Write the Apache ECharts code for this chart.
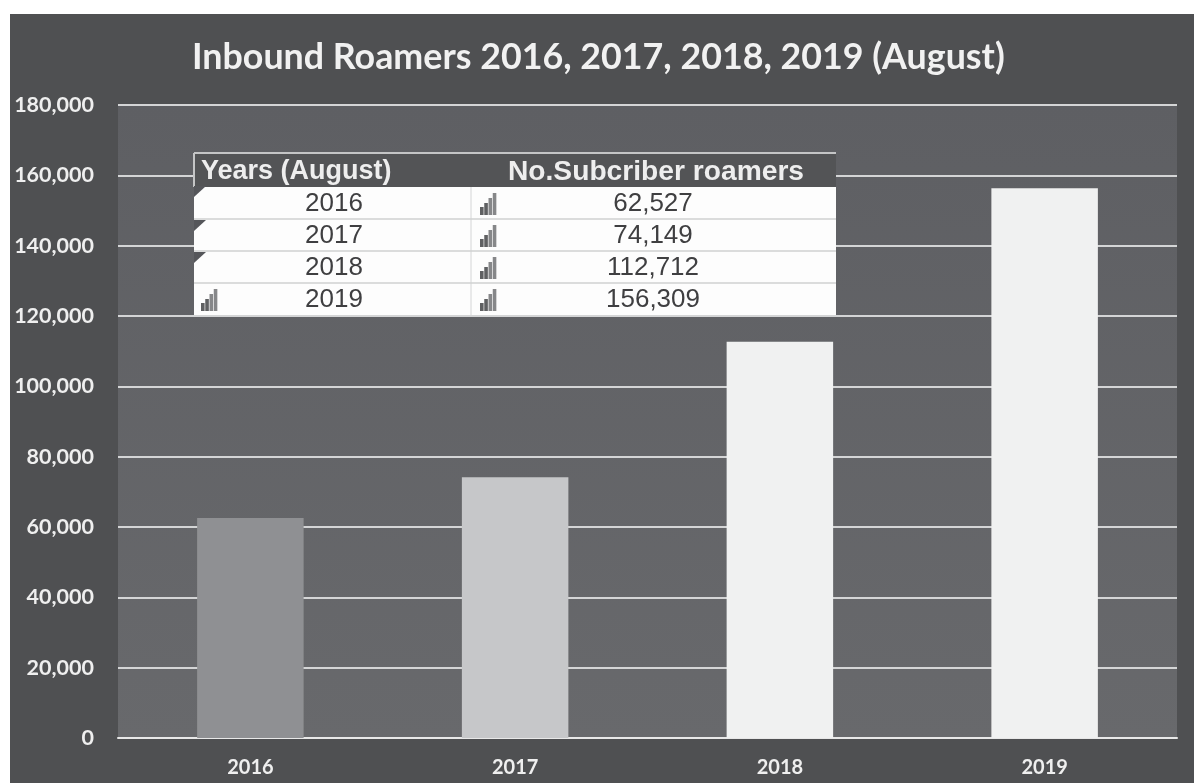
<!DOCTYPE html>
<html><head><meta charset="utf-8">
<script src="https://cdn.jsdelivr.net/npm/echarts@6/dist/echarts.min.js"></script>
<style>html,body{margin:0;padding:0;background:#fff;width:1194px;height:783px;overflow:hidden}
#c{position:absolute;left:10px;top:14px;width:1184px;height:769px}</style></head>
<body><div id="c"></div>
<script>
const titleText = 'Inbound Roamers 2016, 2017, 2018, 2019 (August)';
const years = ['2016','2017','2018','2019'];
const roamers = [62527,74149,112712,156309];
const barColors = ['#8f9093','#c6c7c9','#f0f1f1','#f0f1f1'];
const tableHeaders = ['Years (August)','No.Subcriber roamers'];
const tableValues = ['62,527','74,149','112,712','156,309'];
const leftMarks = ['flag','flag','flag','bars'];

const OX = 10, OY = 14;
const T = {l:194, r:836, top:153, head:187, rowH:32, div:471, c1:334, c2:653};
const g = [];
g.push({type:'rect',shape:{x:T.l-OX,y:T.top-OY,width:T.r-T.l,height:T.head-T.top},style:{fill:'#535456'},z:100});
g.push({type:'rect',shape:{x:T.l-OX,y:T.head-OY,width:T.r-T.l,height:T.rowH*4},style:{fill:'#fdfdfd'},z:100});
g.push({type:'line',shape:{x1:T.l-OX,y1:T.top-OY,x2:T.r-OX,y2:T.top-OY},style:{stroke:'#c4c5c6',lineWidth:2},z:101});
g.push({type:'line',shape:{x1:T.l-OX,y1:T.top-OY,x2:T.l-OX,y2:T.head-OY},style:{stroke:'#c4c5c6',lineWidth:2},z:101});
g.push({type:'line',shape:{x1:T.div-OX,y1:T.head-OY,x2:T.div-OX,y2:T.head+T.rowH*4-OY},style:{stroke:'#d4d5d6',lineWidth:1},z:101});
g.push({type:'text',style:{x:201-OX,y:(T.top+T.head)/2-OY+2,text:tableHeaders[0],fill:'#eeeeee',font:'bold 27px "Liberation Sans"',verticalAlign:'middle'},z:102});
g.push({type:'text',style:{x:656-OX,y:(T.top+T.head)/2-OY+2,text:tableHeaders[1],fill:'#eeeeee',font:'bold 28.2px "Liberation Sans"',align:'center',verticalAlign:'middle'},z:102});
function barsIcon(x,y){
  [8,12,17,22].forEach((h,i)=>{
    g.push({type:'rect',shape:{x:x+i*4.25-OX,y:y-h-OY,width:3.6,height:h},style:{fill:i<2?'#5f6062':'#868789'},z:102});
  });
}
function flag(y){
  g.push({type:'polygon',shape:{points:[[T.l-OX,y-OY],[T.l+12-OX,y-OY],[T.l-OX,y+11-OY]]},style:{fill:'#55565a'},z:102});
}
years.forEach((yr,i)=>{
  const top=T.head+i*T.rowH, mid=top+T.rowH/2;
  if(i>0) g.push({type:'line',shape:{x1:T.l-OX,y1:top-OY,x2:T.r-OX,y2:top-OY},style:{stroke:'#cfd0d1',lineWidth:1.5},z:101});
  g.push({type:'text',style:{x:T.c1-OX,y:mid-OY+1,text:yr,fill:'#3f3f41',font:'26px "Liberation Sans"',align:'center',verticalAlign:'middle'},z:102});
  g.push({type:'text',style:{x:T.c2-OX,y:mid-OY+1,text:tableValues[i],fill:'#3f3f41',font:'26px "Liberation Sans"',align:'center',verticalAlign:'middle'},z:102});
  barsIcon(480,top+28);
  if(leftMarks[i]==='flag') flag(i===0?top-1:top+1); else barsIcon(201,top+28);
});

const chart = echarts.init(document.getElementById('c'),null,{renderer:'canvas'});
chart.setOption({
  animation:false,
  backgroundColor:'#4f5052',
  title:{text:titleText,left:177,top:20,
    textStyle:{color:'#f1f1f1',fontFamily:'Lato',fontWeight:'bold',fontSize:35.8}},
  grid:{left:108,right:17,top:91,bottom:45,show:true,borderWidth:0,
    backgroundColor:new echarts.graphic.LinearGradient(0,0,0,1,[{offset:0,color:'#5e5f63'},{offset:1,color:'#68696c'}])},
  xAxis:{type:'category',data:years,
    axisLine:{lineStyle:{color:'#e8e8e8',width:2}},axisTick:{show:false},
    axisLabel:{color:'#efefef',fontFamily:'Lato',fontWeight:'bold',fontSize:20,margin:20}},
  yAxis:{type:'value',min:0,max:180000,interval:20000,
    axisLine:{show:false},axisTick:{show:false},
    axisLabel:{color:'#efefef',fontFamily:'Lato',fontWeight:'bold',fontSize:21.5,margin:24,
      formatter:v=>v.toLocaleString('en-US')},
    splitLine:{lineStyle:{color:'#d4d5d6',width:2}}},
  series:[{type:'bar',barWidth:106.5,
    data:roamers.map((v,i)=>({value:v,itemStyle:{color:barColors[i]}}))}],
  graphic:{elements:g}
});
</script></body></html>
